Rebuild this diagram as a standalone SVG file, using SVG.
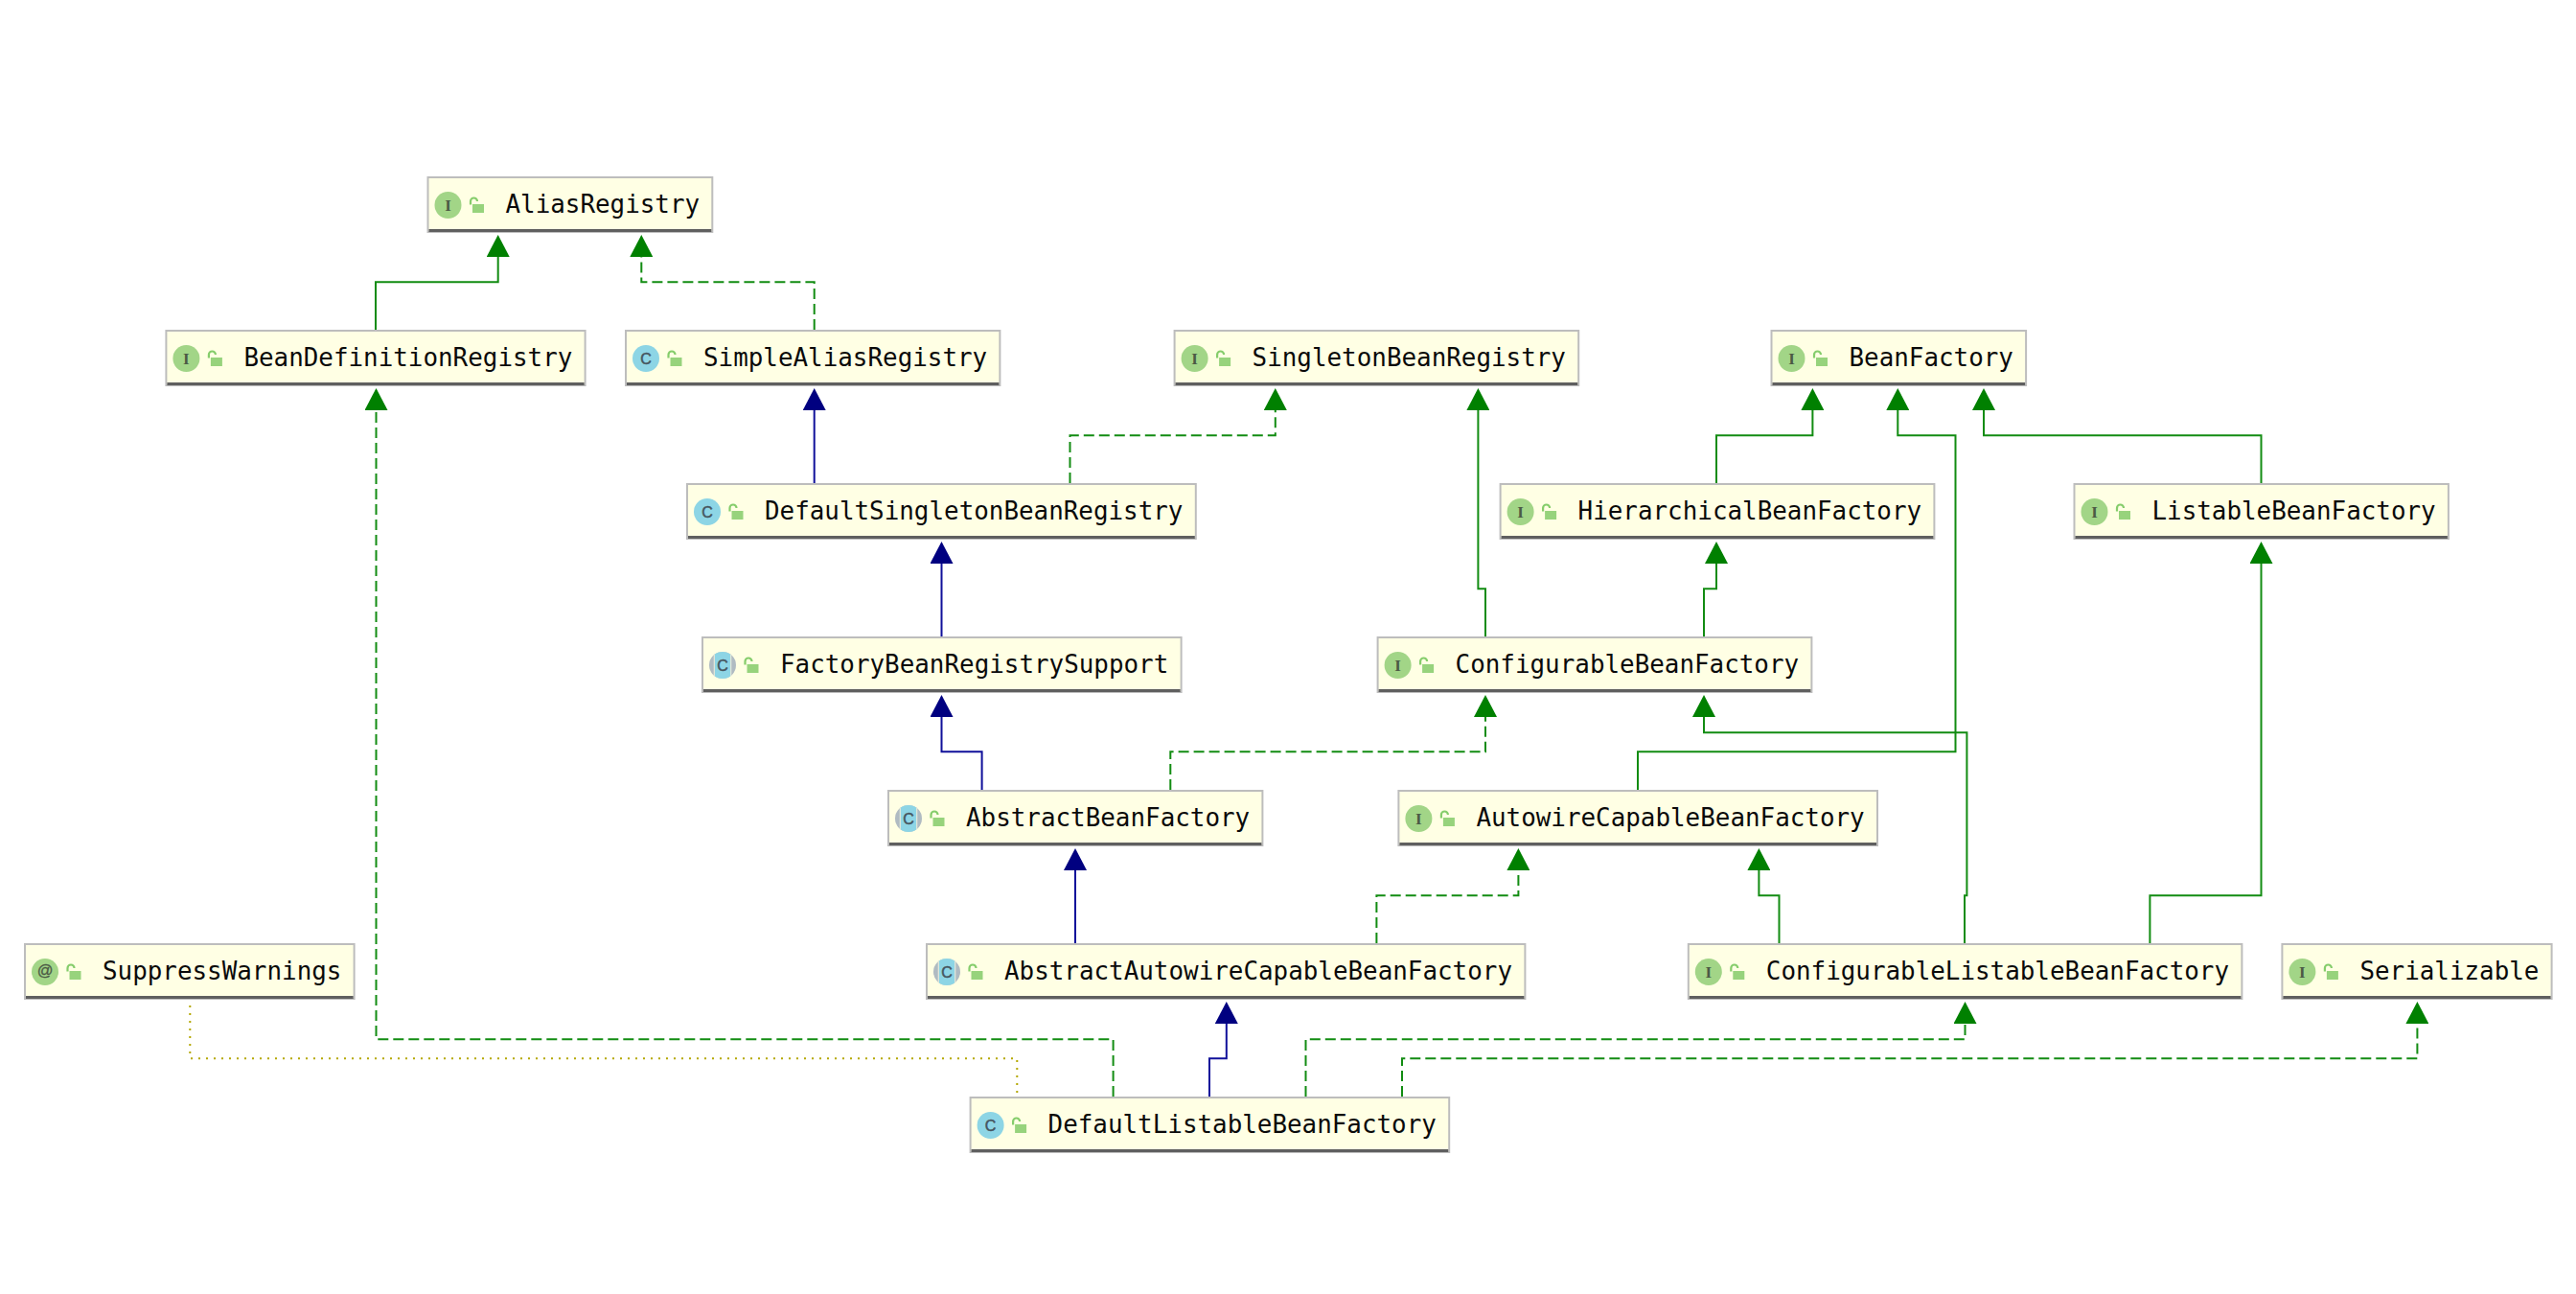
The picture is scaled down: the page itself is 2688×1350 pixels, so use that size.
<svg xmlns="http://www.w3.org/2000/svg" width="2688" height="1350" viewBox="0 0 2688 1350">
<style>
.box{fill:#ffffe4;stroke:#bdbdbd;stroke-width:2}
.base{fill:none;stroke:#5f5f5f;stroke-width:3}
.name{font-family:"DejaVu Sans Mono","Liberation Mono",monospace;font-size:25.9px;fill:#0a0a0a}
.ltr{text-anchor:middle}
.ltrI{font-family:"Liberation Serif",serif;font-size:17px;font-weight:bold;fill:#4b5a45}
.ltrC{font-family:"Liberation Sans",sans-serif;font-size:16px;fill:#46555f;stroke:#46555f;stroke-width:.5}
.ltrA{font-family:"Liberation Sans",sans-serif;font-size:16.5px;fill:#4b5a45;stroke:#4b5a45;stroke-width:.3}
.iface{fill:#a2d587}
.cls{fill:#8dd5e5}
.abs{fill:#b0bbc2}
.lockb{fill:#97d37c}
.locks{fill:none;stroke:#85cd6b;stroke-width:2.2}
.e{fill:none;stroke-width:2}
.g{stroke:#128c12;marker-end:url(#ag)}
.b{stroke:#10109a;marker-end:url(#ab)}
.d{stroke-dasharray:11 5}
.dot{stroke:#b5a800;stroke-width:2;stroke-dasharray:2 6}
</style>
<defs>
<marker id="ag" markerUnits="userSpaceOnUse" markerWidth="24" markerHeight="24" refX="0" refY="12" orient="auto"><path d="M0 0L23 12L0 24z" fill="#008000"/></marker>
<marker id="ab" markerUnits="userSpaceOnUse" markerWidth="24" markerHeight="24" refX="0" refY="12" orient="auto"><path d="M0 0L23 12L0 24z" fill="#000080"/></marker>
<clipPath id="disc"><circle cx="22" cy="30" r="14"/></clipPath>
<g id="lock"><rect class="lockb" x="47.5" y="29" width="12" height="9"/><path class="locks" d="M45.5 29.5V26a3.5 3.5 0 0 1 7 0"/></g>
<g id="absicon"><circle class="abs" cx="22" cy="30" r="14"/><g clip-path="url(#disc)"><rect x="12.7" y="15" width="18.6" height="30" fill="#dfe6da"/><rect class="cls" x="14" y="15" width="16" height="30"/></g></g>
</defs>
<g id="connectors">
<path class="e g" d="M392 344V294.3H519.7V268"/>
<path class="e g d" d="M849.7 344V294.3H669.3V268"/>
<path class="e b" d="M849.7 504V428"/>
<path class="e g d" d="M1116.5 504V454.3H1330.8V428"/>
<path class="e b" d="M982.5 664V588"/>
<path class="e b" d="M1024.6 824V784.3H982.5V748"/>
<path class="e g d" d="M1221.3 824V784.3H1550V748"/>
<path class="e g" d="M1550 664V614.3H1542.4V428"/>
<path class="e g" d="M1778 664V614.3H1791V588"/>
<path class="e g" d="M1791 504V454.3H1891.4V428"/>
<path class="e g" d="M2359.5 504V454.3H2070V428"/>
<path class="e g" d="M1709 824V784.3H2040.5V454.3H1980.3V428"/>
<path class="e g" d="M2050 984V934.3H2052.4V764.3H1778V748"/>
<path class="e g" d="M1856.5 984V934.3H1835.4V908"/>
<path class="e g" d="M2243.4 984V934.3H2359.5V588"/>
<path class="e b" d="M1122 984V908"/>
<path class="e g d" d="M1436.4 984V934.3H1584.4V908"/>
<path class="e b" d="M1262 1144V1104.3H1279.8V1068"/>
<path class="e g d" d="M1161.6 1144V1084.3H392.5V428"/>
<path class="e g d" d="M1362.5 1144V1084.3H2050.5V1068"/>
<path class="e g d" d="M1463 1144V1104.3H2522.4V1068"/>
<path class="e dot" d="M198.3 1049V1104.3H1061.3V1144"/>
</g>
<g id="AliasRegistry" transform="translate(445.5 184)"><rect class="box" x="1" y="1" width="296.8" height="57"/><path class="base" d="M2 56.5H296.8"/><circle class="iface" cx="22" cy="30" r="14"/><text class="ltr ltrI" x="22" y="35.5">I</text><use href="#lock"/><text class="name" x="82" y="38">AliasRegistry</text></g>
<g id="BeanDefinitionRegistry" transform="translate(172.4 344)"><rect class="box" x="1" y="1" width="437.2" height="57"/><path class="base" d="M2 56.5H437.2"/><circle class="iface" cx="22" cy="30" r="14"/><text class="ltr ltrI" x="22" y="35.5">I</text><use href="#lock"/><text class="name" x="82" y="38">BeanDefinitionRegistry</text></g>
<g id="SimpleAliasRegistry" transform="translate(652 344)"><rect class="box" x="1" y="1" width="390.4" height="57"/><path class="base" d="M2 56.5H390.4"/><circle class="cls" cx="22" cy="30" r="14"/><text class="ltr ltrC" x="22" y="35.8">C</text><use href="#lock"/><text class="name" x="82" y="38">SimpleAliasRegistry</text></g>
<g id="SingletonBeanRegistry" transform="translate(1224.6 344)"><rect class="box" x="1" y="1" width="421.6" height="57"/><path class="base" d="M2 56.5H421.6"/><circle class="iface" cx="22" cy="30" r="14"/><text class="ltr ltrI" x="22" y="35.5">I</text><use href="#lock"/><text class="name" x="82" y="38">SingletonBeanRegistry</text></g>
<g id="BeanFactory" transform="translate(1847.5 344)"><rect class="box" x="1" y="1" width="265.6" height="57"/><path class="base" d="M2 56.5H265.6"/><circle class="iface" cx="22" cy="30" r="14"/><text class="ltr ltrI" x="22" y="35.5">I</text><use href="#lock"/><text class="name" x="82" y="38">BeanFactory</text></g>
<g id="DefaultSingletonBeanRegistry" transform="translate(716 504)"><rect class="box" x="1" y="1" width="530.8" height="57"/><path class="base" d="M2 56.5H530.8"/><circle class="cls" cx="22" cy="30" r="14"/><text class="ltr ltrC" x="22" y="35.8">C</text><use href="#lock"/><text class="name" x="82" y="38">DefaultSingletonBeanRegistry</text></g>
<g id="HierarchicalBeanFactory" transform="translate(1564.6 504)"><rect class="box" x="1" y="1" width="452.8" height="57"/><path class="base" d="M2 56.5H452.8"/><circle class="iface" cx="22" cy="30" r="14"/><text class="ltr ltrI" x="22" y="35.5">I</text><use href="#lock"/><text class="name" x="82" y="38">HierarchicalBeanFactory</text></g>
<g id="ListableBeanFactory" transform="translate(2163.5 504)"><rect class="box" x="1" y="1" width="390.4" height="57"/><path class="base" d="M2 56.5H390.4"/><circle class="iface" cx="22" cy="30" r="14"/><text class="ltr ltrI" x="22" y="35.5">I</text><use href="#lock"/><text class="name" x="82" y="38">ListableBeanFactory</text></g>
<g id="FactoryBeanRegistrySupport" transform="translate(732 664)"><rect class="box" x="1" y="1" width="499.6" height="57"/><path class="base" d="M2 56.5H499.6"/><use href="#absicon"/><text class="ltr ltrC" x="22" y="35.8">C</text><use href="#lock"/><text class="name" x="82" y="38">FactoryBeanRegistrySupport</text></g>
<g id="ConfigurableBeanFactory" transform="translate(1436.6 664)"><rect class="box" x="1" y="1" width="452.8" height="57"/><path class="base" d="M2 56.5H452.8"/><circle class="iface" cx="22" cy="30" r="14"/><text class="ltr ltrI" x="22" y="35.5">I</text><use href="#lock"/><text class="name" x="82" y="38">ConfigurableBeanFactory</text></g>
<g id="AbstractBeanFactory" transform="translate(926 824)"><rect class="box" x="1" y="1" width="390.4" height="57"/><path class="base" d="M2 56.5H390.4"/><use href="#absicon"/><text class="ltr ltrC" x="22" y="35.8">C</text><use href="#lock"/><text class="name" x="82" y="38">AbstractBeanFactory</text></g>
<g id="AutowireCapableBeanFactory" transform="translate(1458.4 824)"><rect class="box" x="1" y="1" width="499.6" height="57"/><path class="base" d="M2 56.5H499.6"/><circle class="iface" cx="22" cy="30" r="14"/><text class="ltr ltrI" x="22" y="35.5">I</text><use href="#lock"/><text class="name" x="82" y="38">AutowireCapableBeanFactory</text></g>
<g id="SuppressWarnings" transform="translate(25 984)"><rect class="box" x="1" y="1" width="343.6" height="57"/><path class="base" d="M2 56.5H343.6"/><circle class="iface" cx="22" cy="30" r="14"/><text class="ltr ltrA" x="22" y="34">@</text><use href="#lock"/><text class="name" x="82" y="38">SuppressWarnings</text></g>
<g id="AbstractAutowireCapableBeanFactory" transform="translate(966 984)"><rect class="box" x="1" y="1" width="624.4" height="57"/><path class="base" d="M2 56.5H624.4"/><use href="#absicon"/><text class="ltr ltrC" x="22" y="35.8">C</text><use href="#lock"/><text class="name" x="82" y="38">AbstractAutowireCapableBeanFactory</text></g>
<g id="ConfigurableListableBeanFactory" transform="translate(1760.8 984)"><rect class="box" x="1" y="1" width="577.6" height="57"/><path class="base" d="M2 56.5H577.6"/><circle class="iface" cx="22" cy="30" r="14"/><text class="ltr ltrI" x="22" y="35.5">I</text><use href="#lock"/><text class="name" x="82" y="38">ConfigurableListableBeanFactory</text></g>
<g id="Serializable" transform="translate(2380.4 984)"><rect class="box" x="1" y="1" width="281.2" height="57"/><path class="base" d="M2 56.5H281.2"/><circle class="iface" cx="22" cy="30" r="14"/><text class="ltr ltrI" x="22" y="35.5">I</text><use href="#lock"/><text class="name" x="82" y="38">Serializable</text></g>
<g id="DefaultListableBeanFactory" transform="translate(1011.6 1144)"><rect class="box" x="1" y="1" width="499.6" height="57"/><path class="base" d="M2 56.5H499.6"/><circle class="cls" cx="22" cy="30" r="14"/><text class="ltr ltrC" x="22" y="35.8">C</text><use href="#lock"/><text class="name" x="82" y="38">DefaultListableBeanFactory</text></g>
</svg>
